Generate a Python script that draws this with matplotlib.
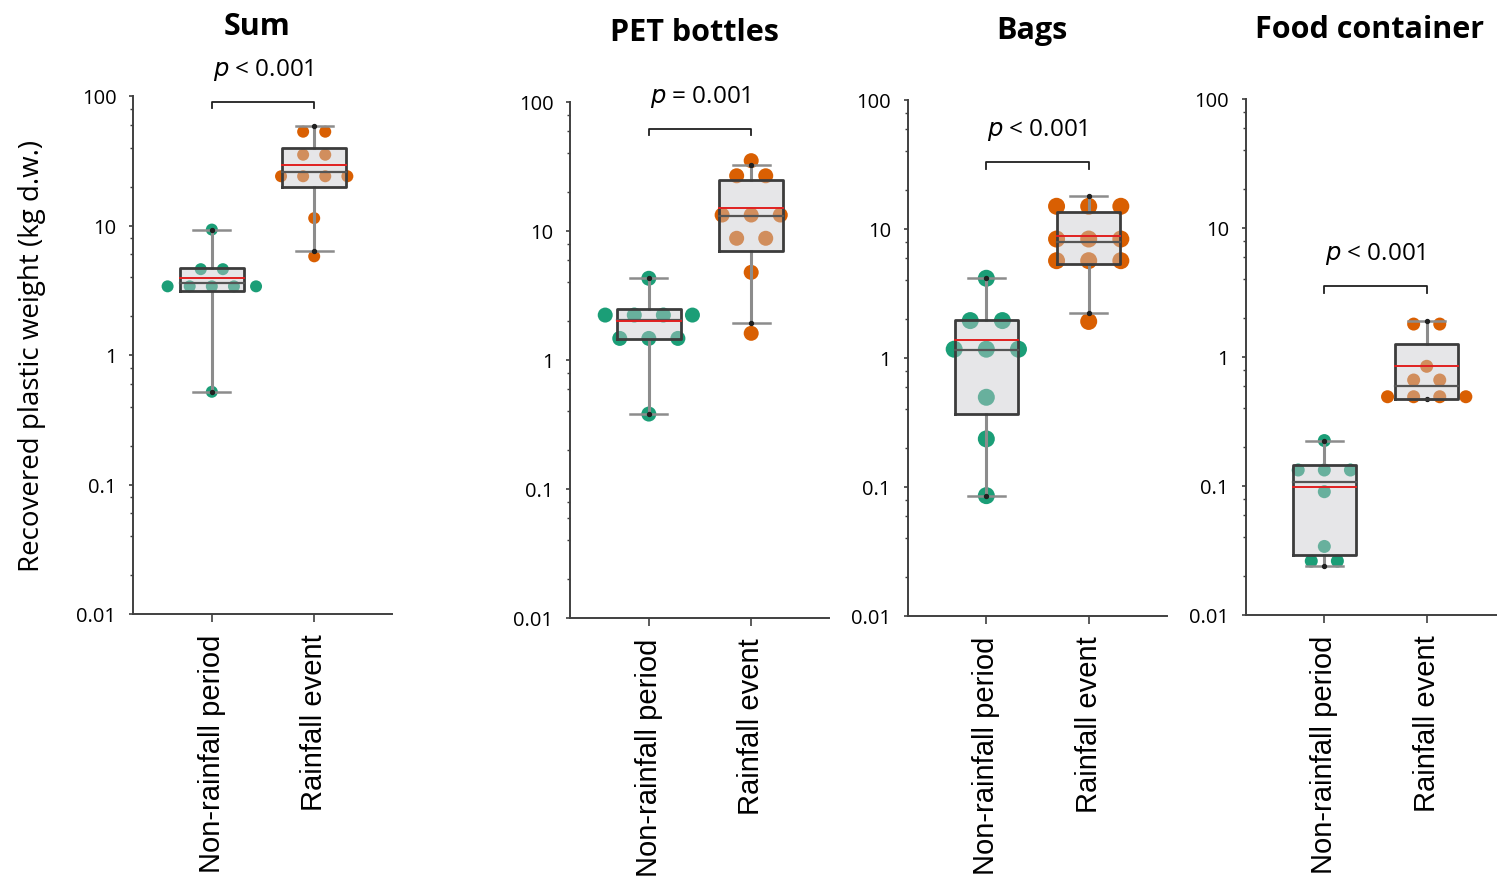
import numpy as np
import matplotlib
matplotlib.use('Agg')
import matplotlib.pyplot as plt
from matplotlib.ticker import LogLocator, FixedLocator, NullFormatter

# Данные (кг сухого веса)
panels = ['Sum', 'PET bottles', 'Bags', 'Food container']
groups = ['Non-rainfall period', 'Rainfall event']
p_texts = ['< 0.001', '= 0.001', '< 0.001', '< 0.001']

sum_dry = [9.3, 4.6, 4.6, 3.39, 3.39, 3.39, 3.39, 3.39, 0.52]
sum_rain = [53, 53, 35.2, 35.2, 24.0, 24.0, 24.0, 24.0, 11.4, 5.78]
pet_dry = [4.3, 2.23, 2.23, 2.23, 2.23, 1.47, 1.47, 1.47, 0.381]
pet_rain = [35.1, 26.8, 26.8, 13.3, 13.3, 13.3, 8.78, 8.78, 4.78, 1.61]
bags_dry = [4.15, 1.95, 1.95, 1.17, 1.17, 1.17, 0.496, 0.236, 0.0857]
bags_rain = [15.0, 15.0, 15.0, 8.36, 8.36, 8.36, 5.68, 5.68, 5.68, 1.92]
food_dry = [0.225, 0.133, 0.133, 0.133, 0.0903, 0.034, 0.0262, 0.0262]
food_rain = [1.80, 1.80, 0.847, 0.663, 0.663, 0.492, 0.492, 0.492, 0.492]

# статистики коробок: whisker_lo, q1, median, mean, q3, whisker_hi
sum_dry_box = [0.52, 3.14, 3.58, 3.95, 4.7, 9.3]
sum_rain_box = [6.35, 19.9, 25.7, 29.3, 39.5, 59.0]
pet_dry_box = [0.381, 1.45, 2.05, 2.0, 2.48, 4.3]
pet_rain_box = [1.92, 7.03, 13.1, 15.0, 25.0, 32.5]
bags_dry_box = [0.0857, 0.368, 1.16, 1.39, 1.98, 4.15]
bags_rain_box = [2.23, 5.35, 7.97, 8.87, 13.5, 17.9]
food_dry_box = [0.0241, 0.0294, 0.107, 0.0988, 0.1455, 0.223]
food_rain_box = [0.472, 0.472, 0.60, 0.847, 1.25, 1.91]

bracket_y = [90, 61.8, 33, 3.53]

values = [(sum_dry, sum_rain), (pet_dry, pet_rain), (bags_dry, bags_rain), (food_dry, food_rain)]
boxes = [(sum_dry_box, sum_rain_box), (pet_dry_box, pet_rain_box),
         (bags_dry_box, bags_rain_box), (food_dry_box, food_rain_box)]

colors = ['#1b9e77', '#d95f02']
marker_px = [12, 15, 17, 13]
spacing = [0.216, 0.284, 0.314, 0.255]

# положение осей в пикселях: левый край, верх, низ
W, H = 1497, 878
ax_px = [(133, 97, 615), (570, 103, 619), (907.5, 101, 617), (1245.5, 100, 616)]
ax_w = 259

fig = plt.figure(figsize=(W / 100, H / 100), dpi=100)

def swarm_offsets(vals, d):
    vals = np.asarray(vals)
    off = np.zeros(len(vals))
    for v in np.unique(vals):
        idx = np.where(vals == v)[0]
        n = len(idx)
        off[idx] = (np.arange(n) - (n - 1) / 2) * d
    return off

for k, name in enumerate(panels):
    x0, top, bot = ax_px[k]
    ax = fig.add_axes([x0 / W, 1 - bot / H, ax_w / W, (bot - top) / H])
    ax.set_yscale('log')
    ax.set_ylim(0.01, 100)
    ax.set_xlim(-0.77, 1.76)

    ms = marker_px[k] * 0.72
    for g in range(2):
        vals = np.array(values[k][g])
        xs = g + swarm_offsets(vals, spacing[k])
        ax.scatter(xs, vals, s=ms ** 2, color=colors[g], edgecolors='none', zorder=2)

        lo, q1, med, mean, q3, hi = boxes[k][g]
        bw, cw = 0.31, 0.18
        # усы
        ax.plot([g, g], [hi, q3], color='#8c8c8c', lw=2.2, zorder=3)
        ax.plot([g, g], [q1, lo], color='#8c8c8c', lw=2.2, zorder=3)
        ax.plot([g - cw, g + cw], [hi, hi], color='#8c8c8c', lw=1.8, zorder=3)
        ax.plot([g - cw, g + cw], [lo, lo], color='#8c8c8c', lw=1.8, zorder=3)
        ax.scatter([g, g], [lo, hi], s=8, color='#202020', zorder=5)
        # коробка
        ax.fill_between([g - bw, g + bw], q1, q3, color='#c8c8cd', alpha=0.45,
                        lw=0, zorder=4)
        ax.plot([g - bw, g + bw, g + bw, g - bw, g - bw], [q1, q1, q3, q3, q1],
                color='#3c3c3c', lw=2, zorder=5)
        ax.plot([g - bw, g + bw], [med, med], color='#555555', lw=1.6, zorder=5)
        ax.plot([g - bw, g + bw], [mean, mean], color='#e02020', lw=1.4, zorder=6)

    # скобка и p-значение
    by = bracket_y[k]
    ax.plot([0, 0, 1, 1], [by * 0.89, by, by, by * 0.89], color='#202020', lw=1.3,
            clip_on=False)
    ax.text(0.5, by * 1.8, '$\\it{p}$ ' + p_texts[k], ha='center', va='center',
            fontsize=17.5, family='Open Sans', clip_on=False)
    ax.text(0.48, 1.135, name, transform=ax.transAxes, ha='center', va='center',
            fontsize=22, fontweight='bold', family='Open Sans')

    for side in ['top', 'right']:
        ax.spines[side].set_visible(False)
    for side in ['left', 'bottom']:
        ax.spines[side].set_color('#404040')
        ax.spines[side].set_linewidth(1.4)

    ax.yaxis.set_major_locator(FixedLocator([0.01, 0.1, 1, 10, 100]))
    ax.set_yticklabels(['0.01', '0.1', '1', '10', '100'], family='Open Sans', fontsize=14.5)
    ax.yaxis.set_minor_locator(LogLocator(base=10, subs=[2, 4, 6, 8]))
    ax.yaxis.set_minor_formatter(NullFormatter())
    ax.tick_params(axis='y', which='major', length=3, width=1.2, color='#404040', pad=9)
    ax.tick_params(axis='y', which='minor', length=2, width=1, color='#404040')

    ax.set_xticks([0, 1])
    ax.set_xticklabels(groups, rotation=90, family='Liberation Sans', fontsize=21,
                       va='top', ha='center')
    ax.tick_params(axis='x', length=6, width=1.2, color='#404040', pad=8)

    if k == 0:
        ax.set_ylabel('Recovered plastic weight (kg d.w.)', family='Open Sans',
                      fontsize=20, labelpad=22)

fig.savefig('out.png', dpi=100)
